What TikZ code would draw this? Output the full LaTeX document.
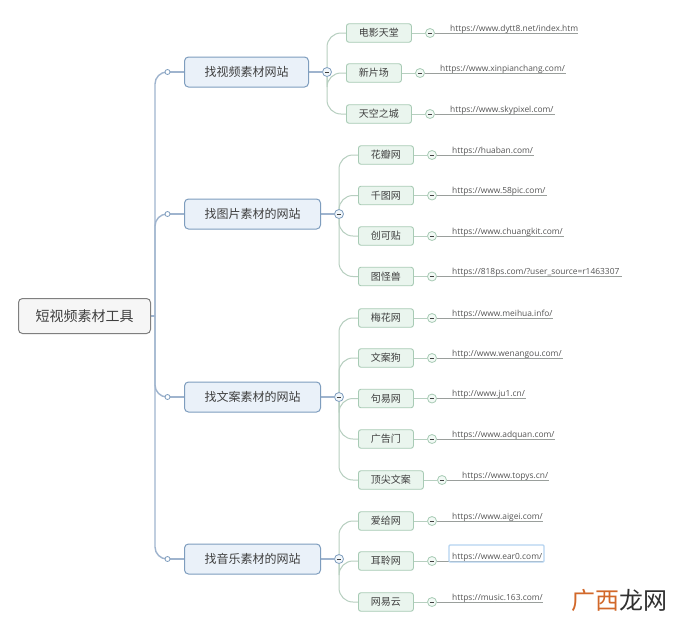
\documentclass[tikz,border=0pt]{standalone}
\usepackage{fontspec}
\setmainfont{Noto Sans CJK SC}
\newfontfamily\urlfont{Open Sans}
\usetikzlibrary{calc}
\pgfdeclarelayer{bg}
\pgfsetlayers{bg,main}
\definecolor{rootline}{HTML}{7F7F7F}
\definecolor{rootfill}{HTML}{F6F6F6}
\definecolor{blueline}{HTML}{9FB4CE}
\definecolor{blueedge}{HTML}{7E9DBE}
\definecolor{bluefill}{HTML}{EAF1F9}
\definecolor{greenline}{HTML}{B7CFC0}
\definecolor{greenedge}{HTML}{A8CBB5}
\definecolor{greenfill}{HTML}{EAF5EE}
\definecolor{inkcol}{HTML}{3F3F3F}
\definecolor{urlcol}{HTML}{555555}
\definecolor{rulecol}{HTML}{9A9F9C}
\definecolor{selcol}{HTML}{B5D3F0}
\definecolor{wmorange}{HTML}{D2682A}
\definecolor{wmdark}{HTML}{303030}
\tikzset{
  rootbox/.style={draw=rootline,fill=rootfill,rounded corners=4pt,line width=1pt,anchor=west,minimum width=132pt,minimum height=35pt,inner sep=0pt,text=inkcol,font=\fontsize{14}{16}\selectfont},
  topicbox/.style={draw=blueedge,fill=bluefill,rounded corners=4pt,line width=1pt,anchor=west,minimum height=30pt,inner sep=0pt,text=inkcol,font=\fontsize{12}{14}\selectfont},
  leafbox/.style={draw=greenedge,fill=greenfill,rounded corners=2.5pt,line width=0.9pt,anchor=west,minimum height=18.5pt,inner sep=0pt,text=inkcol,font=\fontsize{10}{12}\selectfont},
  urltext/.style={anchor=south west,inner xsep=0pt,inner ysep=0pt,text depth=1.5pt,text=urlcol,align=left,font=\urlfont\fontsize{8.4}{10}\selectfont},
  dot/.style={circle,draw=blueedge,fill=white,line width=0.8pt,inner sep=0pt,minimum size=5pt},
  minusbase/.style={circle,inner sep=0pt,minimum size=9pt,line width=0.8pt,
    path picture={\draw[inkcol,line width=0.8pt] ($(path picture bounding box.center)+(-2.2pt,0)$) -- ($(path picture bounding box.center)+(2.2pt,0)$);}},
  topicminus/.style={minusbase,draw=blueedge,fill=bluefill!60!white},
  leafminus/.style={minusbase,draw=greenedge,fill=greenfill!60!white},
  trunk/.style={draw=blueline,line width=1.4pt,rounded corners=12pt},
  twig/.style={draw=greenline,line width=1pt,rounded corners=14pt},
  urlrule/.style={draw=rulecol,line width=0.8pt},
  selectbox/.style={draw=selcol,line width=1.2pt,rounded corners=1pt},
}
\newcommand{\nudged}[1]{\raisebox{-2pt}{#1}\hspace{5pt}}
% #1 id, #2 text, #3 left, #4 right, #5 y, #6 url end, #7 url, #8 parent
\newcommand{\leafrow}[8]{%
  \pgfmathsetmacro{\wbox}{#4-#3}%
  \pgfmathsetmacro{\cx}{#4+19}%
  \pgfmathsetmacro{\ux}{#4+39}%
  \pgfmathsetmacro{\uw}{#6-#4-39}%
  \node[leafbox,minimum width=\wbox pt] (l#1) at (#3,#5) {\nudged{#2}};
  \node[leafminus] (c#1) at (\cx,#5) {};
  \node[urltext,text width=\uw pt] (u#1) at (\ux,#5) {#7};
  \begin{pgfonlayer}{bg}
    \draw[twig] (#8) |- (l#1.west);
    \draw[twig] (l#1.east) -- (c#1);
    \draw[urlrule] (c#1) -- (u#1.south east);
  \end{pgfonlayer}%
}
% #1 id, #2 text, #3 right, #4 y, #5 minus x
\newcommand{\topicrow}[5]{%
  \pgfmathsetmacro{\wbox}{#3-184}%
  \node[topicbox,minimum width=\wbox pt] (t#1) at (184,#4) {\nudged{#2}};
  \node[dot] (d#1) at (167.5,#4) {};
  \node[topicminus] (m#1) at (#5,#4) {};
  \begin{pgfonlayer}{bg}
    \draw[trunk] (spine) |- (d#1);
    \draw[trunk] (d#1) -- (t#1.west);
    \draw[trunk] (t#1.east) -- (m#1);
  \end{pgfonlayer}%
}
\begin{document}
\begin{tikzpicture}[x=1pt,y=-1pt]
\begin{pgfonlayer}{bg}
  \fill[white] (0,0) rectangle (700,630);
\end{pgfonlayer}
\useasboundingbox (0,0) rectangle (700,630);
\coordinate (spine) at (155,316);
\node[rootbox] (root) at (18,316) {\nudged{短视频素材工具}};
\begin{pgfonlayer}{bg}
  \draw[trunk] (root.east) -- (spine);
\end{pgfonlayer}
\topicrow{a}{找视频素材网站}{308}{72}{327}
\topicrow{b}{找图片素材的网站}{320}{214}{339}
\topicrow{c}{找文案素材的网站}{320}{397}{339}
\topicrow{d}{找音乐素材的网站}{320}{559}{339}

\leafrow{a1}{电影天堂}{346}{411}{33}{578}{https://www.dytt8.net/index.htm}{ma}
\leafrow{a2}{新片场}{346}{401}{73}{566}{https://www.xinpianchang.com/}{ma}
\leafrow{a3}{天空之城}{346}{411}{114}{555}{https://www.skypixel.com/}{ma}

\leafrow{b1}{花瓣网}{358}{413}{155}{534}{https://huaban.com/}{mb}
\leafrow{b2}{千图网}{358}{413}{195.5}{547}{https://www.58pic.com/}{mb}
\leafrow{b3}{创可贴}{358}{413}{236}{564}{https://www.chuangkit.com/}{mb}
\leafrow{b4}{图怪兽}{358}{413}{276.5}{622}{https://818ps.com/?user\_source=r1463307}{mb}

\leafrow{c1}{梅花网}{358}{413}{318}{553}{https://www.meihua.info/}{mc}
\leafrow{c2}{文案狗}{358}{413}{358}{563}{http://www.wenangou.com/}{mc}
\leafrow{c3}{句易网}{358}{413}{398.5}{526}{http://www.ju1.cn/}{mc}
\leafrow{c4}{广告门}{358}{413}{439}{555}{https://www.adquan.com/}{mc}
\leafrow{c5}{顶尖文案}{358}{423}{480}{549}{https://www.topys.cn/}{mc}

\leafrow{d1}{爱给网}{358}{413}{521}{543}{https://www.aigei.com/}{md}
\leafrow{d2}{耳聆网}{358}{413}{561}{543}{https://www.ear0.com/}{md}
\leafrow{d3}{网易云}{358}{413}{602}{543}{https://music.163.com/}{md}

\node[selectbox,minimum width=95pt,minimum height=17pt,inner sep=0pt] (sel) at (496.5,553.5) {};

\node[anchor=west,inner sep=0pt,font=\fontsize{24}{28}\selectfont] (wm) at (571,600) {\textcolor{wmorange}{广西}\textcolor{wmdark}{龙网}};
\end{tikzpicture}
\end{document}
